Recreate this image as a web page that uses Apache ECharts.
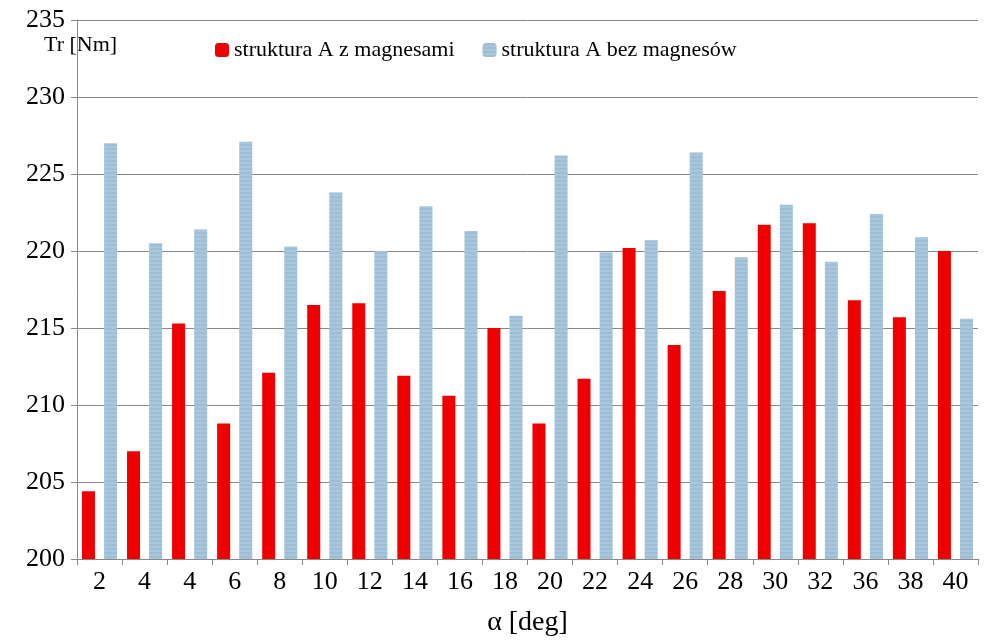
<!DOCTYPE html>
<html>
<head>
<meta charset="UTF-8">
<script src="https://cdn.jsdelivr.net/npm/echarts@6/dist/echarts.min.js"></script>
<style>body{margin:0;background:#fff}#c{width:991px;height:644px}</style>
</head>
<body>
<div id="c"></div>
<script>
const categories = ["2","4","4","6","8","10","12","14","16","18","20","22","24","26","28","30","32","36","38","40"];
const withMagnets = [204.4,207.0,215.3,208.8,212.1,216.5,216.6,211.9,210.6,215.0,208.8,211.7,220.2,213.9,217.4,221.7,221.8,216.8,215.7,220.0];
const withoutMagnets = [227.0,220.5,221.4,227.1,220.3,223.8,220.0,222.9,221.3,215.8,226.2,219.9,220.7,226.4,219.6,223.0,219.3,222.4,220.9,215.6];

const font = "Liberation Serif";
const chart = echarts.init(document.getElementById("c"));
chart.setOption({
  animation: false,
  textStyle: { fontFamily: font, color: "#000" },
  grid: { left: 77, right: 13, top: 20, bottom: 85 },
  legend: {
    top: 34, left: 210, itemGap: 28, itemWidth: 14, itemHeight: 14,
    textStyle: { fontFamily: font, fontSize: 22, color: "#000" },
    data: ["struktura A z magnesami", "struktura A bez magnesów"]
  },
  graphic: [{ type: "text", left: 44, top: 34, style: { text: "Tr [Nm]", font: "22px Liberation Serif", fill: "#000" } }],
  xAxis: {
    type: "category", data: categories,
    name: "α [deg]", nameLocation: "middle", nameGap: 50,
    nameTextStyle: { fontFamily: font, fontSize: 28, color: "#000" },
    axisLine: { lineStyle: { color: "#888" } },
    axisTick: { show: true, lineStyle: { color: "#888" }, length: 6 },
    axisLabel: { fontFamily: font, fontSize: 26, color: "#000", margin: 10 }
  },
  yAxis: {
    type: "value", min: 200, max: 235, interval: 5,
    axisLine: { show: true, lineStyle: { color: "#888" } },
    axisTick: { show: true, lineStyle: { color: "#888" }, length: 6 },
    axisLabel: { fontFamily: font, fontSize: 26, color: "#000", margin: 12 },
    splitLine: { lineStyle: { color: "#888" } }
  },
  series: [
    { name: "struktura A z magnesami", type: "bar", data: withMagnets,
      barWidth: 13, barGap: "70%", itemStyle: { color: "#ee0000" } },
    { name: "struktura A bez magnesów", type: "bar", data: withoutMagnets,
      barWidth: 13, itemStyle: { color: "#a8c6dc",
        decal: { symbol: "rect", symbolSize: 0.5, dashArrayX: [1, 0], dashArrayY: [2, 2], color: "rgba(90,140,180,0.5)" } } }
  ]
});
</script>
</body>
</html>
